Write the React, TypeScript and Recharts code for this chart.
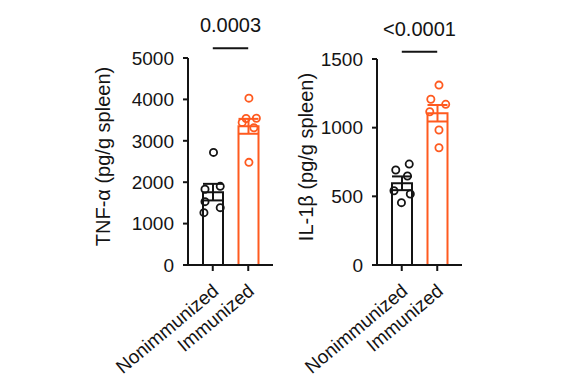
import React from 'react';
import { ComposedChart, Bar, XAxis, YAxis, Scatter, ErrorBar, ReferenceLine, Label } from 'recharts';

// ---------- data ----------
const categories = ['Nonimmunized', 'Immunized'];
const groupPos = [0, 1];

const tnfNonimmunized = [2720, 1900, 1830, 1530, 1385, 1264];
const tnfNonimmunizedJitter = [0.02, 0.21, -0.22, -0.22, 0.21, -0.25];
const tnfImmunized = [4030, 3540, 3545, 3445, 3316, 2480];
const tnfImmunizedJitter = [0.02, -0.06, 0.23, -0.17, 0.16, 0.02];
const tnfMeans = [1760, 3350];
const tnfSems = [200, 180];
const tnfTicks = [0, 1000, 2000, 3000, 4000, 5000];
const tnfSigLevel = 5234;

const il1bNonimmunized = [735, 692, 648, 541, 517, 454];
const il1bNonimmunizedJitter = [0.21, -0.17, 0.16, -0.22, 0.24, -0.01];
const il1bImmunized = [1310, 1207, 1170, 1116, 983, 854];
const il1bImmunizedJitter = [0.05, -0.18, 0.24, -0.21, 0.05, 0.05];
const il1bMeans = [595, 1105];
const il1bSems = [50, 60];
const il1bTicks = [0, 500, 1000, 1500];
const il1bSigLevel = 1553;

const pValues = ['0.0003', '<0.0001'];
const yLabels = ['TNF-\u03b1 (pg/g spleen)', 'IL-1\u03b2 (pg/g spleen)'];

// ---------- style ----------
const FONT = 'Arial, "Liberation Sans", Helvetica, sans-serif';
const BLACK = '#141414';
const ORANGE = '#FF5A1F';

function XTick(props: any) {
  const { x, y, payload } = props;
  const ax = x + 3;
  const ay = y;
  return (
    <text
      x={ax}
      y={ay}
      transform={`rotate(-40, ${ax}, ${ay})`}
      textAnchor="end"
      dominantBaseline="central"
      fontSize={19}
      fontFamily={FONT}
      fill={BLACK}
    >
      {payload.value}
    </text>
  );
}

function makeDot(color: string) {
  return (p: any) => (
    <circle cx={p.cx} cy={p.cy} r={3.6} fill="none" stroke={color} strokeWidth={1.8} />
  );
}

type PanelProps = {
  left: number;
  width: number;
  margin: { top: number; right: number; bottom: number; left: number };
  yTicks: number[];
  means: number[];
  sems: number[];
  nonVals: number[];
  nonJit: number[];
  immVals: number[];
  immJit: number[];
  sigLevel: number;
  pValue: string;
  yLabel: string;
  labelDx: number;
};

function Panel(props: PanelProps) {
  const { left, width, margin, yTicks, means, sems, nonVals, nonJit, immVals, immJit, sigLevel, pValue, yLabel, labelDx } = props;
  const barRows = [
    { name: categories[0], non: means[0], nonErr: sems[0] },
    { name: categories[1], imm: means[1], immErr: sems[1] },
  ];
  const nonPts = nonVals.map((v, i) => ({ x: groupPos[0] + nonJit[i], y: v }));
  const immPts = immVals.map((v, i) => ({ x: groupPos[1] + immJit[i], y: v }));
  const yMax = yTicks[yTicks.length - 1];

  return (
    <div style={{ position: 'absolute', left, top: 0 }}>
      <ComposedChart width={width} height={388} data={barRows} margin={margin}>
        <XAxis
          xAxisId="cat"
          type="category"
          dataKey="name"
          padding={{ left: 7, right: 7 }}
          interval={0}
          tick={<XTick />}
          tickSize={6}
          tickMargin={17}
          height={60}
          axisLine={{ stroke: BLACK, strokeWidth: 2 }}
          tickLine={{ stroke: BLACK, strokeWidth: 2 }}
        />
        <XAxis xAxisId="num" type="number" dataKey="x" domain={[-0.7, 1.7]} allowDataOverflow hide />
        <YAxis
          type="number"
          domain={[0, yMax]}
          ticks={yTicks}
          interval={0}
          width={60}
          tickSize={5}
          tickMargin={9}
          axisLine={{ stroke: BLACK, strokeWidth: 2 }}
          tickLine={{ stroke: BLACK, strokeWidth: 2 }}
          tick={{ fontSize: 19, fill: BLACK, fontFamily: FONT }}
        >
          <Label
            content={(lp: any) => {
              const vb = lp.viewBox;
              const cx = vb.x + labelDx;
              const cy = vb.y + vb.height / 2 - 5;
              return (
                <text
                  x={cx}
                  y={cy}
                  transform={`rotate(-90, ${cx}, ${cy})`}
                  textAnchor="middle"
                  dominantBaseline="central"
                  fontSize={20}
                  fontFamily={FONT}
                  fill={BLACK}
                >
                  {yLabel}
                </text>
              );
            }}
          />
        </YAxis>
        <Bar xAxisId="cat" dataKey="non" stackId="g" fill="#ffffff" stroke={BLACK} strokeWidth={2} barSize={20} isAnimationActive={false}>
          <ErrorBar dataKey="nonErr" direction="y" width={10} stroke={BLACK} strokeWidth={2} />
        </Bar>
        <Bar xAxisId="cat" dataKey="imm" stackId="g" fill="#ffffff" stroke={ORANGE} strokeWidth={2} barSize={20} isAnimationActive={false}>
          <ErrorBar dataKey="immErr" direction="y" width={10} stroke={ORANGE} strokeWidth={2} />
        </Bar>
        <Scatter xAxisId="num" data={nonPts} dataKey="y" isAnimationActive={false} shape={makeDot(BLACK)} />
        <Scatter xAxisId="num" data={immPts} dataKey="y" isAnimationActive={false} shape={makeDot(ORANGE)} />
        <ReferenceLine
          xAxisId="num"
          segment={[{ x: groupPos[0], y: sigLevel }, { x: groupPos[1], y: sigLevel }]}
          ifOverflow="visible"
          stroke={BLACK}
          strokeWidth={2}
        >
          <Label value={pValue} position="top" offset={16} fontSize={20} fill={BLACK} fontFamily={FONT} />
        </ReferenceLine>
      </ComposedChart>
    </div>
  );
}

export default function App() {
  return (
    <div style={{ position: 'absolute', left: 0, top: 0, width: 570, height: 388, background: '#ffffff', overflow: 'hidden' }}>
      <Panel
        left={0}
        width={285}
        margin={{ top: 58, right: 12, bottom: 63, left: 128 }}
        yTicks={tnfTicks}
        means={tnfMeans}
        sems={tnfSems}
        nonVals={tnfNonimmunized}
        nonJit={tnfNonimmunizedJitter}
        immVals={tnfImmunized}
        immJit={tnfImmunizedJitter}
        sigLevel={tnfSigLevel}
        pValue={pValues[0]}
        yLabel={yLabels[0]}
        labelDx={-25}
      />
      <Panel
        left={285}
        width={285}
        margin={{ top: 59, right: 108, bottom: 63, left: 32 }}
        yTicks={il1bTicks}
        means={il1bMeans}
        sems={il1bSems}
        nonVals={il1bNonimmunized}
        nonJit={il1bNonimmunizedJitter}
        immVals={il1bImmunized}
        immJit={il1bImmunizedJitter}
        sigLevel={il1bSigLevel}
        pValue={pValues[1]}
        yLabel={yLabels[1]}
        labelDx={-11}
      />
    </div>
  );
}
